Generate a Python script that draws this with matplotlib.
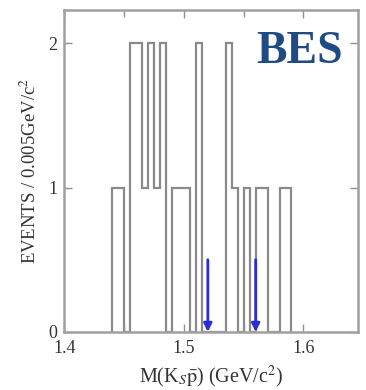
import numpy as np
import matplotlib
matplotlib.use('Agg')
import matplotlib.pyplot as plt
from matplotlib.ticker import MultipleLocator

plt.rcParams['font.family'] = ['Liberation Serif', 'DejaVu Serif']
plt.rcParams['mathtext.fontset'] = 'stix'

# events per 0.005 GeV/c^2 bin, first bin starts at 1.44
first_edge = 1.44
bin_width = 0.005
counts = [1, 1, 0, 2, 2, 1, 2, 1, 2, 0, 1, 1, 1, 0, 2, 0, 0, 0, 0,
          2, 1, 0, 1, 0, 1, 1, 0, 0, 1, 1]

# arrows marking the two mass values
arrow_x = [1.52, 1.56]
arrow_top = 0.5

edges = first_edge + bin_width * np.arange(len(counts) + 1)

fig = plt.figure(figsize=(3.66, 3.90), dpi=100)
ax = fig.add_axes([0.176, 0.149, 0.802, 0.825])

ax.stairs(counts, edges, color='#8a8a8a', linewidth=1.6, baseline=0)

for x in arrow_x:
    ax.annotate('', xy=(x, 0), xytext=(x, arrow_top),
                arrowprops=dict(arrowstyle='-|>', color='#2b2bd8', lw=2,
                                mutation_scale=12, shrinkA=0, shrinkB=0))

ax.set_xlim(1.4, 1.6456)
ax.set_ylim(0, 2.23)
ax.xaxis.set_major_locator(MultipleLocator(0.1))
ax.xaxis.set_minor_locator(MultipleLocator(0.05))
ax.yaxis.set_major_locator(MultipleLocator(1))
ax.tick_params(which='both', direction='in', top=True, right=True,
               color='#909090', labelsize=13, labelcolor='#333333')
ax.tick_params(which='major', length=6, width=1)
ax.tick_params(which='minor', length=5, width=1)
ax.tick_params(axis='x', pad=6)
ax.tick_params(axis='y', pad=5)
ax.set_xticks([1.4, 1.5, 1.6])
ax.set_xticklabels(['1.4', '1.5', '1.6'])
for s in ax.spines.values():
    s.set_color('#a0a0a0')
    s.set_linewidth(1.8)

ax.set_xlabel('M(K$_S\\bar{\\mathrm{p}}$) (GeV/c$^2$)', fontsize=14.5,
              color='#333333', labelpad=5)
ax.set_ylabel('EVENTS / 0.005GeV/c$^2$', fontsize=13.5, color='#333333',
              labelpad=6)

ax.text(0.95, 0.935, 'BES', transform=ax.transAxes, ha='right', va='top',
        fontsize=33, fontweight='bold', color='#1f4b85')

plt.savefig('out.png', dpi=100)
